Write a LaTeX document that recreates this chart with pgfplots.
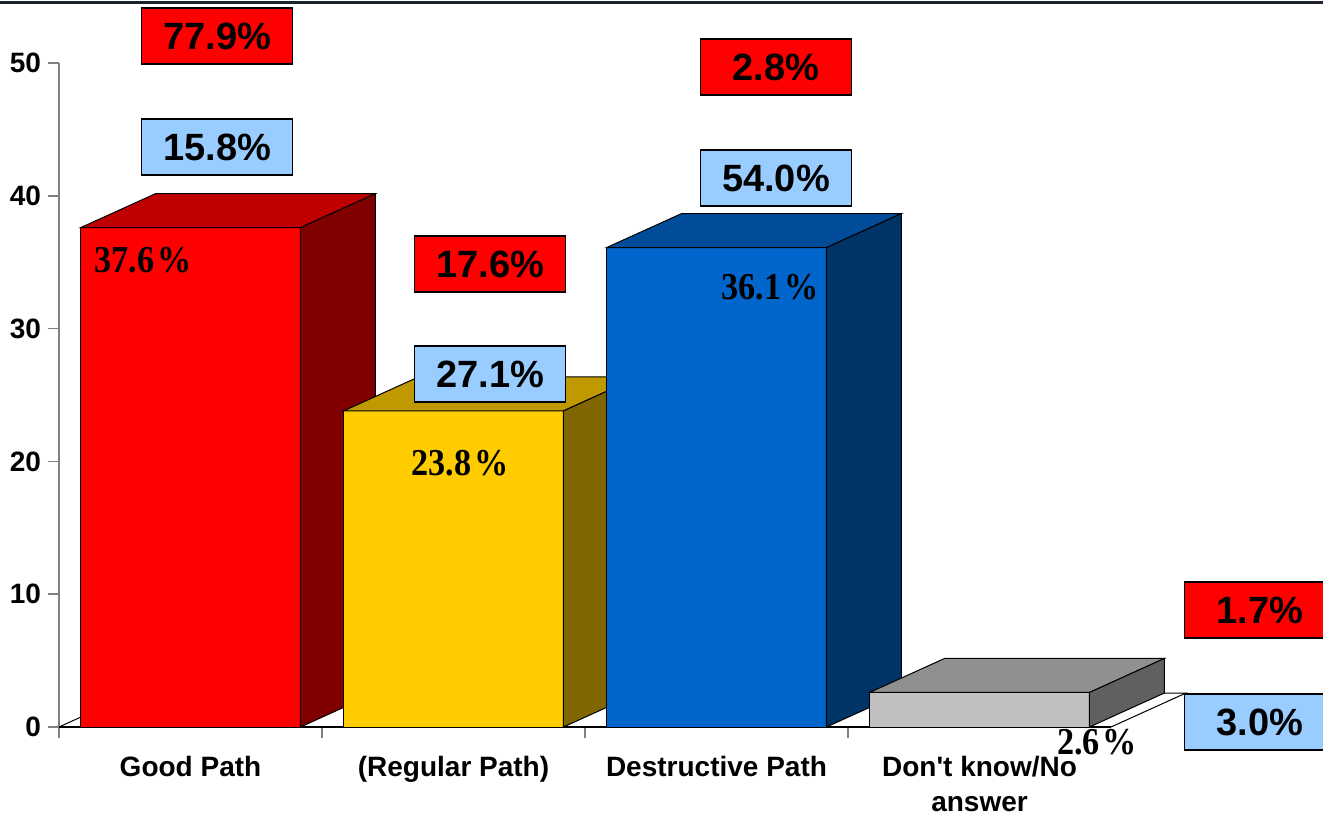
\documentclass[border=0pt]{standalone}
\usepackage{pgfplots}
\pgfplotsset{compat=1.18}
\usepackage{fontspec}
\setmainfont{Liberation Sans}
\newfontfamily\tnr[FakeStretch=0.9]{Liberation Serif}

\definecolor{redF}{HTML}{FF0000}
\definecolor{redT}{HTML}{C00000}
\definecolor{redS}{HTML}{800000}
\definecolor{yelF}{HTML}{FFCC00}
\definecolor{yelT}{HTML}{C09900}
\definecolor{yelS}{HTML}{806600}
\definecolor{bluF}{HTML}{0066CC}
\definecolor{bluT}{HTML}{004C99}
\definecolor{bluS}{HTML}{003366}
\definecolor{gryF}{HTML}{C0C0C0}
\definecolor{gryT}{HTML}{909090}
\definecolor{gryS}{HTML}{606060}
\definecolor{boxR}{HTML}{FF0000}
\definecolor{boxB}{HTML}{99CCFF}
\definecolor{topline}{HTML}{1E2332}

% one 3D bar: centre, value, front, top, side colour
\newcommand{\barcube}[5]{%
  \pgfmathsetmacro{\xa}{#1-0.418}%
  \pgfmathsetmacro{\xb}{#1+0.418}%
  \pgfmathsetmacro{\xc}{#1+0.418+0.285}%
  \pgfmathsetmacro{\xd}{#1-0.418+0.285}%
  \pgfmathsetmacro{\yt}{#2+2.56}%
  \edef\doit{%
    \noexpand\addplot[fill=#3,draw=black,line width=0.5pt] coordinates {(\xa,0) (\xb,0) (\xb,#2) (\xa,#2)} -- cycle;
    \noexpand\addplot[fill=#4,draw=black,line width=0.5pt] coordinates {(\xa,#2) (\xb,#2) (\xc,\yt) (\xd,\yt)} -- cycle;
    \noexpand\addplot[fill=#5,draw=black,line width=0.5pt] coordinates {(\xb,0) (\xc,2.56) (\xc,\yt) (\xb,#2)} -- cycle;
  }\doit}

\tikzset{
  pbox/.style={draw=black, line width=0.75pt, minimum width=75.5pt, minimum height=28pt,
    inner sep=0pt, font=\bfseries\fontsize{19}{19}\selectfont},
  inlab/.style={font=\tnr\bfseries\fontsize{19}{19}\selectfont},
}

\begin{document}
\begin{tikzpicture}
\begin{axis}[
    scale only axis,
    width=526pt, height=332pt,
    xmin=-0.5, xmax=3.5,
    ymin=0, ymax=50,
    clip=false,
    axis lines=left,
    axis line style={-},
    x axis line style={black, line width=0.8pt},
    y axis line style={gray, line width=0.8pt},
    tick align=outside,
    major tick length=5.5pt,
    tick style={gray, line width=0.8pt},
    ytick={0,10,20,30,40,50},
    yticklabel style={font=\bfseries\fontsize{14}{14}\selectfont},
    /pgf/number format/assume math mode=true,
    xtick={-0.5,0.5,1.5,2.5},
    xticklabels={},
    extra x ticks={0,1,2,3},
    extra x tick labels={Good Path,(Regular Path),Destructive Path,{Don\textquotesingle t know/No\\answer}},
    extra x tick style={major tick length=0pt,
      xticklabel style={align=center, yshift=-11pt, font=\bfseries\fontsize{14}{17.5}\selectfont}},
]
% floor
\draw[black, line width=0.5pt] (axis cs:-0.5,0) -- (axis cs:-0.215,2.56) -- (axis cs:3.785,2.56) -- (axis cs:3.5,0);

\barcube{0}{37.6}{redF}{redT}{redS}
\barcube{1}{23.8}{yelF}{yelT}{yelS}
\barcube{2}{36.1}{bluF}{bluT}{bluS}
\barcube{3}{2.6}{gryF}{gryT}{gryS}

% values on the bars
\node[inlab] at (axis cs:-0.181,35.17) {37.6\kern1.5pt\%};
\node[inlab] at (axis cs:1.025,19.88) {23.8\kern1.5pt\%};
\node[inlab] at (axis cs:2.203,33.13) {36.1\kern1.5pt\%};
\node[inlab] at (axis cs:3.447,-1.13) {2.6\kern1.5pt\%};

% boxes
\node[pbox, fill=boxR] at (axis cs:0.101,52.03) {77.9\%};
\node[pbox, fill=boxB] at (axis cs:0.101,43.67) {15.8\%};
\node[pbox, fill=boxR] at (axis cs:1.139,34.86) {17.6\%};
\node[pbox, fill=boxB] at (axis cs:1.139,26.58) {27.1\%};
\node[pbox, fill=boxR] at (axis cs:2.226,49.70) {2.8\%};
\node[pbox, fill=boxB] at (axis cs:2.226,41.34) {54.0\%};
\node[pbox, fill=boxR] at (axis cs:4.067,8.81) {1.7\%};
\node[pbox, fill=boxB] at (axis cs:4.067,0.38) {3.0\%};

% top rule and frame of the page
\draw[topline, line width=1.5pt] (axis cs:-0.73,54.59) -- (axis cs:4.31,54.59);
\coordinate (TL) at (axis cs:-0.7243,54.744);
\coordinate (BR) at (axis cs:4.306,-6.627);
\end{axis}
\pgfresetboundingbox
\path[use as bounding box] (TL) rectangle (BR);
\end{tikzpicture}
\end{document}
